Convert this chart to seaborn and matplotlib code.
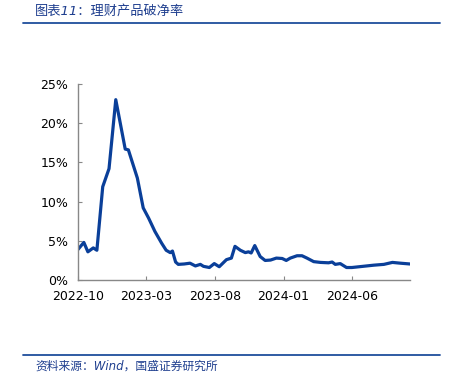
import pandas as pd
import seaborn as sns
import matplotlib.pyplot as plt
import matplotlib.dates as mdates
from matplotlib.lines import Line2D
from matplotlib.ticker import FuncFormatter

# 理财产品破净率 (%)
dates = [
    "2022-10-01", "2022-10-14", "2022-10-23", "2022-11-04", "2022-11-12",
    "2022-11-25", "2022-12-09", "2022-12-24", "2023-01-14", "2023-01-21",
    "2023-02-10", "2023-02-23", "2023-03-07", "2023-03-21", "2023-04-05",
    "2023-04-15", "2023-04-24", "2023-04-29", "2023-05-06", "2023-05-12",
    "2023-05-25", "2023-06-07", "2023-06-19", "2023-06-30", "2023-07-07",
    "2023-07-20", "2023-07-31", "2023-08-11", "2023-08-27", "2023-09-07",
    "2023-09-15", "2023-09-27", "2023-10-08", "2023-10-15", "2023-10-21",
    "2023-10-29", "2023-11-10", "2023-11-21", "2023-12-03", "2023-12-16",
    "2023-12-29", "2024-01-07", "2024-01-16", "2024-01-31", "2024-02-11",
    "2024-02-22", "2024-03-08", "2024-03-23", "2024-04-10", "2024-04-18",
    "2024-04-25", "2024-05-06", "2024-05-20", "2024-06-01", "2024-07-20",
    "2024-08-11", "2024-08-30", "2024-09-17", "2024-10-08",
]
rate = [
    3.9, 4.8, 3.6, 4.1, 3.8,
    11.9, 14.2, 23.0, 16.7, 16.6,
    13.0, 9.2, 7.9, 6.2, 4.7,
    3.8, 3.5, 3.7, 2.3, 2.0,
    2.05, 2.15, 1.8, 2.0, 1.75,
    1.6, 2.1, 1.7, 2.6, 2.8,
    4.3, 3.8, 3.5, 3.6, 3.45,
    4.4, 3.0, 2.5, 2.55, 2.8,
    2.75, 2.5, 2.8, 3.1, 3.1,
    2.8, 2.35, 2.25, 2.2, 2.3,
    2.0, 2.1, 1.6, 1.6, 1.9,
    2.0, 2.25, 2.15, 2.05,
]
tick_labels = ["2022-10", "2023-03", "2023-08", "2024-01", "2024-06"]
y_ticks = [0, 5, 10, 15, 20, 25]

title = "图表11：理财产品破净率"
source = "资料来源：Wind，国盛证券研究所"

blue = "#0a3f99"
text_blue = "#1f3f8f"


def main():
    sns.set_style("white")
    plt.rcParams["font.family"] = ["DejaVu Sans", "Noto Sans CJK SC"]

    df = pd.DataFrame({"date": pd.to_datetime(dates), "rate": rate})

    fig = plt.figure(figsize=(4.55, 3.8), dpi=100)
    ax = fig.add_axes([0.1714, 0.263, 0.7296, 0.516])
    sns.lineplot(data=df, x="date", y="rate", color=blue, linewidth=2.3, ax=ax)

    ax.set_xlim(pd.Timestamp("2022-10-01"), pd.Timestamp("2024-10-08"))
    ax.set_ylim(0, 25)
    ax.set_xticks(pd.to_datetime(tick_labels))
    ax.xaxis.set_major_formatter(mdates.DateFormatter("%Y-%m"))
    ax.set_yticks(y_ticks)
    ax.yaxis.set_major_formatter(FuncFormatter(lambda v, p: f"{v:.0f}%"))
    ax.set_xlabel("")
    ax.set_ylabel("")

    for side in ["top", "right"]:
        ax.spines[side].set_visible(False)
    for side in ["left", "bottom"]:
        ax.spines[side].set_color("#888888")
        ax.spines[side].set_linewidth(1.0)
    ax.tick_params(axis="both", direction="in", length=3, width=0.8,
                   color="#888888", labelsize=9, labelcolor="black", pad=7)
    ax.tick_params(axis="x", bottom=True)
    ax.tick_params(axis="y", left=True)

    # header / footer
    fig.text(35 / 455, 1 - 11 / 380, title,
             family=["DejaVu Sans", "Noto Sans CJK SC"],
             style="italic", fontsize=9.5, color=text_blue, va="center")
    fig.add_artist(Line2D([23 / 455, 440 / 455], [1 - 22.5 / 380] * 2,
                          color="#1f4e9c", linewidth=1.3))
    fig.add_artist(Line2D([23 / 455, 440 / 455], [1 - 355 / 380] * 2,
                          color="#1f4e9c", linewidth=1.3))
    fig.text(35 / 455, 1 - 366 / 380, source,
             family=["DejaVu Sans", "Noto Sans CJK SC"],
             style="italic", fontsize=8.5, color=text_blue, va="center")

    fig.savefig("out.png", dpi=100)
    plt.close(fig)


if __name__ == "__main__":
    main()
